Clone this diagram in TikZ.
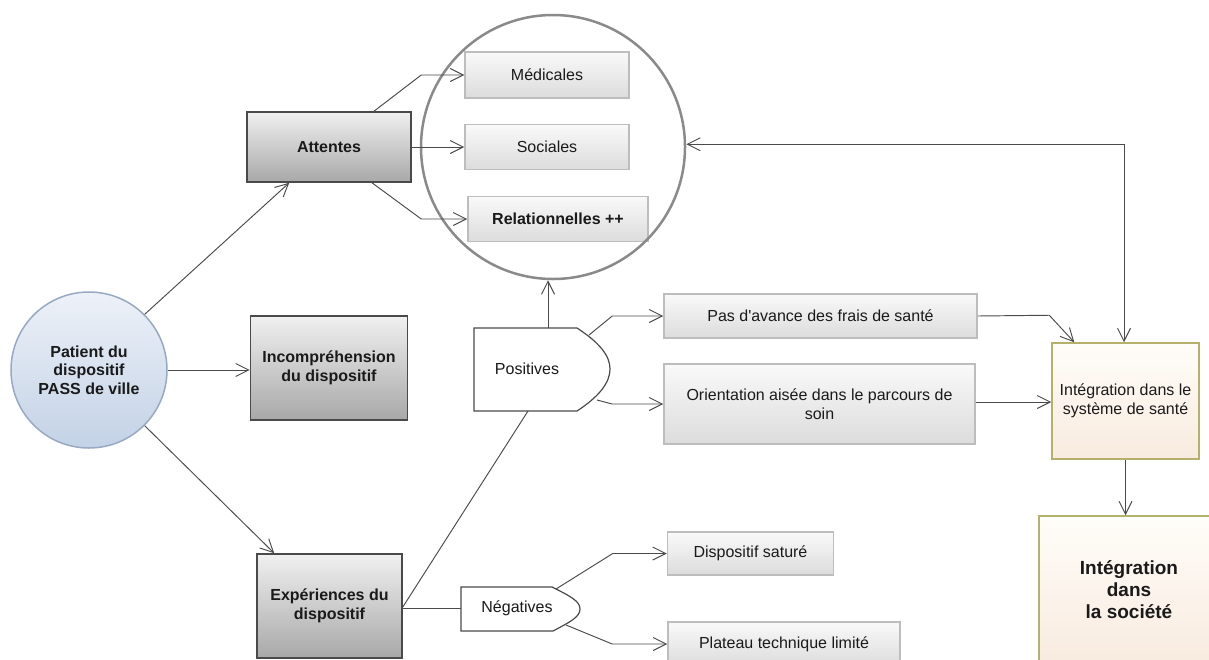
\documentclass[tikz,border=0pt]{standalone}
\usepackage{fontspec}
\setmainfont{Liberation Sans}[Ligatures=TeXOff]
\usetikzlibrary{arrows.meta,calc}
\definecolor{linec}{HTML}{4A4A4A}
\definecolor{txtc}{HTML}{1A1A1A}
\definecolor{grayTop}{HTML}{F0F0F0}
\definecolor{grayBot}{HTML}{A8A8A8}
\definecolor{grayBd}{HTML}{4A4A4A}
\definecolor{lightTop}{HTML}{F9F9F9}
\definecolor{lightBot}{HTML}{DCDCDC}
\definecolor{lightBd}{HTML}{BDBDBD}
\definecolor{creamTop}{HTML}{FFFDF9}
\definecolor{creamBot}{HTML}{F8EBDF}
\definecolor{creamBd}{HTML}{B5B06A}
\definecolor{blueTop}{HTML}{EDF1F8}
\definecolor{blueBot}{HTML}{C3D2E6}
\definecolor{blueBd}{HTML}{98AAC2}
\definecolor{bigBd}{HTML}{8A8A8A}
\begin{document}
\begin{tikzpicture}[x=1pt,y=-1pt,
  base/.style={inner sep=0pt, align=center, text=txtc,
    font=\fontsize{16pt}{18.5pt}\selectfont},
  graybox/.style={base, rectangle, draw=grayBd, line width=1.6pt,
    top color=grayTop, bottom color=grayBot,
    font=\fontsize{16pt}{18.5pt}\selectfont\bfseries},
  lightbox/.style={base, rectangle, draw=lightBd, line width=1.5pt,
    top color=lightTop, bottom color=lightBot},
  creambox/.style={base, rectangle, draw=creamBd, line width=1.5pt,
    top color=creamTop, bottom color=creamBot},
  patientc/.style={base, circle, draw=blueBd, line width=1.5pt,
    top color=blueTop, bottom color=blueBot,
    font=\fontsize{16pt}{18.5pt}\selectfont\bfseries},
  bigc/.style={circle, draw=bigBd, line width=2.5pt, inner sep=0pt},
  tagshape/.style={draw=linec, line width=1.2pt, fill=white},
  conn/.style={draw=linec, line width=0.95pt},
  arr/.style={conn, -{Straight Barb[length=13pt,width=13pt,line width=0.95pt]}},
  darr/.style={conn, {Straight Barb[length=13pt,width=13pt,line width=0.95pt]}-{Straight Barb[length=13pt,width=13pt,line width=0.95pt]}}
]
\clip (0,0) rectangle (1209,659);
\fill[white] (0,0) rectangle (1209,659);

% main nodes
\node[patientc, minimum size=156pt] (patient) at (89,370) {Patient du\\dispositif\\PASS de ville};
\node[graybox, minimum width=164pt, minimum height=70pt] (attentes) at (329,147) {Attentes};
\node[graybox, minimum width=157pt, minimum height=104pt] (incomp) at (329,368) {Incompréhension\\du dispositif};
\node[graybox, minimum width=145pt, minimum height=104pt] (exper) at (329.5,606) {Expériences du\\dispositif};

\node[lightbox, minimum width=164pt, minimum height=46pt] (medicales) at (547,75) {Médicales};
\node[lightbox, minimum width=164pt, minimum height=45pt] (sociales) at (547,147) {Sociales};
\node[lightbox, minimum width=180pt, minimum height=45pt, font=\fontsize{16pt}{18.5pt}\selectfont\bfseries] (relation) at (558,219) {Relationnelles ++};

\node[bigc, minimum size=264pt] (big) at (553,147) {};

\node[lightbox, minimum width=313pt, minimum height=44pt] (pas) at (820.5,316) {Pas d'avance des frais de santé};
\node[lightbox, minimum width=311pt, minimum height=80pt] (orient) at (819.5,404) {Orientation aisée dans le parcours de\\soin};
\node[lightbox, minimum width=166pt, minimum height=43pt] (dispo) at (750.5,553.5) {Dispositif saturé};
\node[lightbox, minimum width=232pt, minimum height=44pt] (plateau) at (784,644) {Plateau technique limité};

\node[creambox, minimum width=147pt, minimum height=116pt] (systeme) at (1125.5,401) {Intégration dans le\\système de santé};
\node[creambox, minimum width=180pt, minimum height=148pt, font=\fontsize{19pt}{22pt}\selectfont\bfseries] (societe) at (1129,590) {Intégration\\dans\\la société};

% Positives shape
\draw[tagshape] (474,328) -- (577,328) .. controls (600,343) and (610,356) .. (610,369)
  .. controls (610,382) and (600,396) .. (577,411) -- (474,411) -- cycle;
\node[base] (pos) at (527,369) {Positives};
\coordinate (posT) at (548,328);
\coordinate (posR1) at (589,335);
\coordinate (posR2) at (597,400);
\coordinate (posB) at (528,411);

% Negatives shape
\draw[tagshape] (461,587) -- (552,587) .. controls (570,596) and (580,601) .. (580,609)
  .. controls (580,617) and (570,622) .. (553,631) -- (461,631) -- cycle;
\node[base] (neg) at (517,608) {Négatives};
\coordinate (negL) at (461,608);
\coordinate (negR1) at (556,589);
\coordinate (negR2) at (566,625);

% connectors
\draw[arr] (patient.45) -- ($(attentes.south west)+(43,0)$);
\draw[arr] (patient.east) -- (patient.east -| incomp.west);
\draw[arr] (patient.-45) -- ($(exper.north west)+(18,0)$);

\draw[arr] ($(attentes.north)+(45,0)$) -- ($(medicales.west)+(-43,0)$) -- (medicales.west);
\draw[arr] (attentes.east) -- (sociales.west);
\draw[arr] ($(attentes.south)+(43,0)$) -- ($(relation.west)+(-46,0)$) -- (relation.west);

\draw[arr] (posT) -- (posT |- big.south);
\draw[arr] (posR1) -- ($(pas.west)+(-51,0)$) -- (pas.west);
\draw[arr] (posR2) -- ($(orient.west)+(-51,0)$) -- (orient.west);

\draw[conn] ($(exper.east)+(0,1)$) -- (posB);
\draw[conn] (exper.east |- negL) -- (negL);
\draw[arr] (negR1) -- ($(dispo.west)+(-54,0)$) -- (dispo.west);
\draw[arr] (negR2) -- ($(plateau.west)+(-55,0)$) -- (plateau.west);

\draw[arr] (pas.east) -- ($(systeme.north west)+(-2,-27)$) -- ($(systeme.north west)+(23,0)$);
\draw[arr] (orient.east |- 0,402) -- (systeme.west |- 0,402);
\coordinate (corner) at ($(systeme.north)+(-1.5,-198)$);
\draw[darr] (big.east |- corner) -- (corner) -- (corner |- systeme.north);
\draw[arr] (systeme.south) -- (systeme.south |- societe.north);
\end{tikzpicture}
\end{document}
